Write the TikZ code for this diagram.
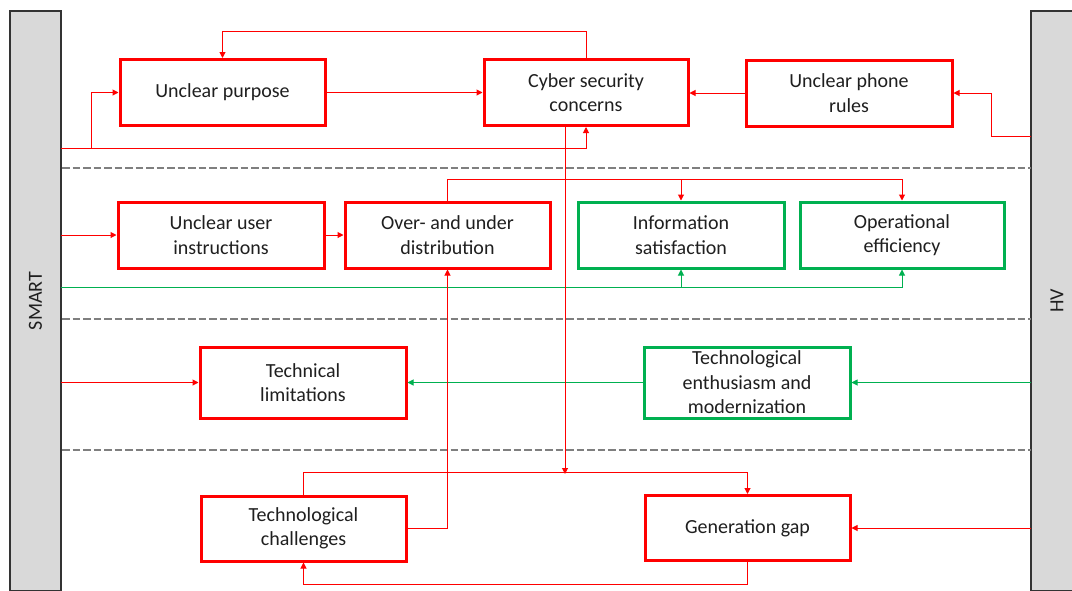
\documentclass[tikz,border=0pt]{standalone}
\usepackage{fontspec}
\setmainfont{Carlito}
\usetikzlibrary{arrows.meta}
\definecolor{bred}{HTML}{FF0000}
\definecolor{bgreen}{HTML}{00B050}
\definecolor{bargray}{HTML}{D9D9D9}
\definecolor{dashgray}{HTML}{7F7F7F}
\begin{document}
\begin{tikzpicture}[x=1pt,y=-1pt,
  box/.style={draw, line width=3pt, fill=white, inner sep=0pt, align=center,
    minimum width=205pt, minimum height=66pt,
    font=\fontsize{20}{24.5}\selectfont, text=black!88},
  redbox/.style={box, draw=bred},
  greenbox/.style={box, draw=bgreen},
  bar/.style={draw=black!80, line width=1.2pt, fill=bargray, inner sep=0pt,
    minimum width=580pt, minimum height=51pt, rotate=90,
    font=\fontsize{20}{24}\selectfont, text=black!88},
  rlink/.style={draw=bred, line width=1pt, -{Triangle[length=6pt,width=6pt]}},
  glink/.style={draw=bgreen, line width=1pt, -{Triangle[length=6pt,width=6pt]}},
  lane/.style={draw=dashgray, line width=2.6pt, dash pattern=on 7.5pt off 3pt}
]
\useasboundingbox (0,0) rectangle (1072,590);

% side bars
\node[bar] (smart) at (35.5,301) {SMART};
\node[bar, minimum height=52pt] (hv) at (1057,301) {HV};

% lane separators
\draw[lane] (62,168) -- (1031,168);
\draw[lane] (62,319) -- (1031,319);
\draw[lane] (62,450) -- (1031,450);

% boxes
\node[redbox] (UP)  at (222.5,92.5) {Unclear purpose};
\node[redbox, minimum width=204pt] (CS)  at (586,92.5) {Cyber security\\concerns};
\node[redbox, minimum width=206pt] (UPR) at (849,93) {Unclear phone\\rules};
\node[redbox, minimum width=206pt] (UUI) at (221,235) {Unclear user\\instructions};
\node[redbox] (OUD) at (447.5,235) {Over- and under\\distribution};
\node[greenbox, minimum width=206pt] (IS)  at (681,235) {Information\\satisfaction};
\node[greenbox, minimum width=204pt] (OE)  at (902,235) {Operational\\efficiency};
\node[redbox, minimum width=206pt, minimum height=71pt] (TL) at (303,382.5) {Technical\\limitations};
\node[greenbox, minimum width=206pt, minimum height=71pt] (TE) at (747,382.5) {Technological\\enthusiasm and\\modernization};
\node[redbox, minimum height=65pt] (TC) at (303.5,528.5) {Technological\\challenges};
\node[redbox, minimum height=65pt] (GG) at (747.5,528) {Generation gap};

% entry points on the bars
\coordinate (s1) at (61,148);
\coordinate (s2) at (61,287);
\coordinate (s3) at (61,235);
\coordinate (s4) at (61,382.5);
\coordinate (h1) at (1031,136);
\coordinate (h2) at (1031,382.5);
\coordinate (h3) at (1031,528);
\coordinate (m)  at (565,474);

% top lane
\draw[rlink] (CS.north) -- ++(0,-27) -| (UP.north);
\draw[rlink] (UP.east) -- (UP.east -| CS.west);
\draw[rlink] (s1) -| (CS.south);
\draw[rlink] (s1) -- ++(30,0) |- (UP.west);
\draw[rlink] (UPR.west) -- (UPR.west -| CS.east);
\draw[rlink] (h1) -- ++(-40,0) |- (UPR.east);

% second lane
\draw[rlink] (s3) -- (UUI.west);
\draw[rlink] (UUI.east) -- (OUD.west);
\draw[rlink] (OUD.north) -- ++(0,-21) -| (IS.north);
\draw[rlink] (OUD.north) -- ++(0,-21) -| (OE.north);
\draw[glink] (s2) -| (IS.south);
\draw[glink] (s2) -| (OE.south);

% third lane
\draw[rlink] (s4) -- (TL.west);
\draw[glink] (TE.west) -- (TL.east);
\draw[glink] (h2) -- (TE.east);

% bottom lane
\draw[rlink] (TC.north) -- ++(0,-22) -| (GG.north);
\draw[rlink] ([xshift=-21pt]CS.south) -- (m);
\draw[rlink] (TC.east) -| (OUD.south);
\draw[rlink] (h3) -- (GG.east);
\draw[rlink] (GG.south) -- ++(0,22) -| (TC.south);
\end{tikzpicture}
\end{document}
